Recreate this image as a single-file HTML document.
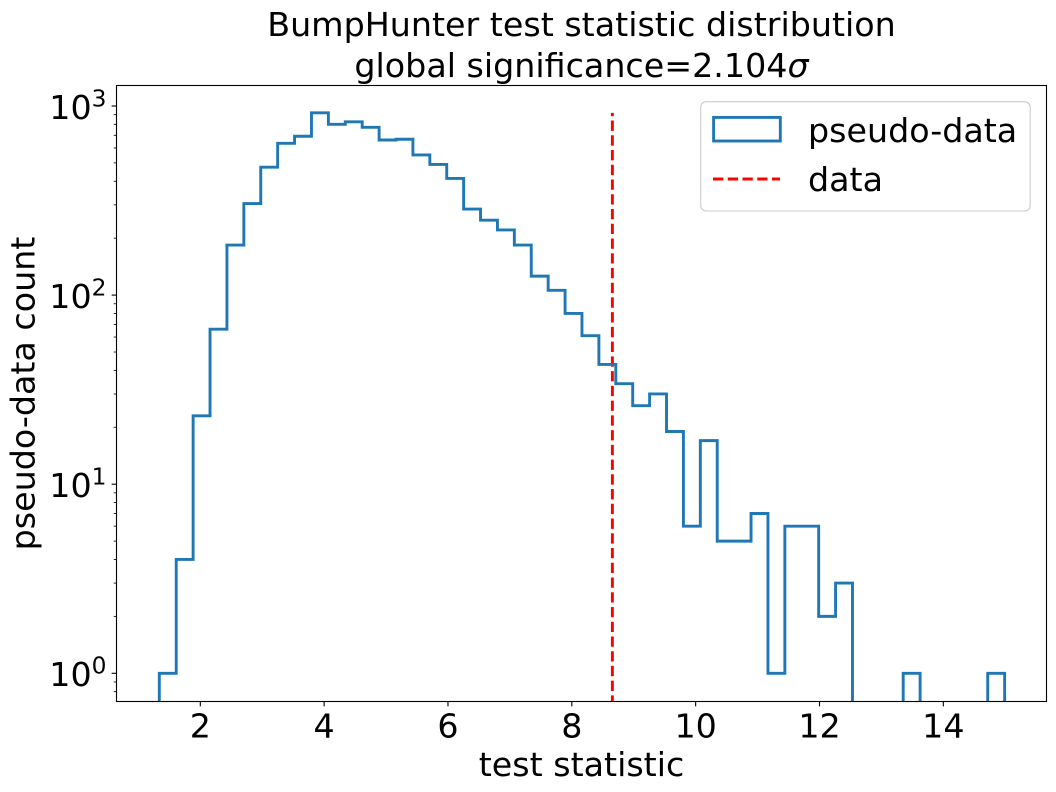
<!DOCTYPE html>
<html lang="en">
<head>
<meta charset="utf-8">
<title>BumpHunter test statistic distribution</title>
<style>
html,body{margin:0;padding:0;background:#fff;width:1056px;height:792px;overflow:hidden}
svg{display:block}
text{font-family:"DejaVu Sans","Liberation Sans",sans-serif;fill:#000}
</style>
</head>
<body>
<svg id="chart" xmlns="http://www.w3.org/2000/svg" width="1056" height="792" viewBox="0 0 1056 792">
  <defs><clipPath id="plot-clip"><rect x="116.5" y="85.5" width="930" height="616"/></clipPath></defs>
  <rect x="116.5" y="85.5" width="930" height="616" fill="#fff"/>
  <g id="marks" clip-path="url(#plot-clip)"></g>
  <g id="ticks"></g>
  <rect x="116.5" y="85.5" width="930" height="616" fill="none" stroke="#000" stroke-width="1.1"/>
  <text x="581.5" y="36" font-size="33.3" text-anchor="middle">BumpHunter test statistic distribution</text>
  <text x="581.5" y="77" font-size="33.3" text-anchor="middle">global significance=2.104<tspan font-style="italic">σ</tspan></text>
  <text x="581.5" y="776" font-size="33.3" text-anchor="middle">test statistic</text>
  <text transform="translate(34.5 393.5) rotate(-90)" font-size="33.3" text-anchor="middle">pseudo-data count</text>
  <g>
    <rect x="700.7" y="101.7" width="329.5" height="109.3" rx="5.5" ry="5.5" fill="#fff" fill-opacity="0.8" stroke="#ccc" stroke-width="1.1"/>
    <rect x="713.6" y="117.4" width="66.7" height="23.6" fill="none" stroke="#1f77b4" stroke-width="2.9"/>
    <text x="808" y="142" font-size="33.3">pseudo-data</text>
    <line x1="713" y1="179" x2="780" y2="179" stroke="#f00" stroke-width="2.9" stroke-dasharray="10.3 4.44"/>
    <text x="808" y="191" font-size="33.3">data</text>
  </g>
</svg>
<script>
const counts = [1,4,23,66,184,305,475,635,692,920,800,825,771,661,667,551,491,414,285,249,221,184,126,106,80,61,43,34,26,30,19,6,17,5,5,7,1,6,6,2,3,0,0,0,1,0,0,0,0,1];
const histRange = [1.338, 14.99];
const dataValue = [8.655];
const dataLineTop = [920];
const xTickValues = [2,4,6,8,10,12,14];
const yTickExponents = [0,1,2,3];
const minorMultipliers = [2,3,4,5,6,7,8,9];

const NS = 'http://www.w3.org/2000/svg';
const plot = {left:116.5, right:1046.5, top:85.5, bottom:701.5};
function xScale(v){ return 200.3 + (v - 2) * 61.92; }
function yScale(v){ return 673.3 - Math.log10(v) * 189.1; }
function make(tag, attrs, parent){
  const el = document.createElementNS(NS, tag);
  for (const k in attrs) el.setAttribute(k, attrs[k]);
  parent.appendChild(el);
  return el;
}
const marks = document.getElementById('marks');
const ticks = document.getElementById('ticks');

dataValue.forEach(function(v, i){
  const line = make('line', {x1:xScale(v), x2:xScale(v), y1:yScale(dataLineTop[i]), y2:plot.bottom, stroke:'#f00', 'stroke-width':2.9, 'stroke-dasharray':'10.3 4.44', 'stroke-dashoffset':7.04}, marks);
  
  
});

const binWidth = (histRange[1] - histRange[0]) / counts.length;
const baseY = plot.bottom + 20;
let d = 'M' + xScale(histRange[0]).toFixed(2) + ' ' + baseY;
counts.forEach(function(c, i){
  const y = c > 0 ? yScale(c) : baseY;
  const x0 = xScale(histRange[0] + i * binWidth);
  const x1 = xScale(histRange[0] + (i + 1) * binWidth);
  d += ' L' + x0.toFixed(2) + ' ' + y.toFixed(2) + ' L' + x1.toFixed(2) + ' ' + y.toFixed(2);
});
d += ' L' + xScale(histRange[1]).toFixed(2) + ' ' + baseY;
const hist = make('path', {d:d, fill:'none', stroke:'#1f77b4', 'stroke-width':2.9, 'stroke-linejoin':'miter'}, marks);



xTickValues.forEach(function(v){
  const x = xScale(v);
  const t = make('line', {x1:x, x2:x, y1:plot.bottom, y2:plot.bottom + 4.86, stroke:'#000', 'stroke-width':1.1}, ticks);
  
  
  const l = make('text', {x:x, y:737.5, 'font-size':33.3, 'text-anchor':'middle'}, ticks);
  l.textContent = String(v);
  
  
});

yTickExponents.forEach(function(e){
  const y = yScale(Math.pow(10, e));
  const t = make('line', {x1:plot.left - 4.86, x2:plot.left, y1:y, y2:y, stroke:'#000', 'stroke-width':1.1}, ticks);
  
  
  const l = make('text', {x:106.5, y:y + 12.8, 'font-size':33.3, 'text-anchor':'end'}, ticks);
  
  
  l.appendChild(document.createTextNode('10'));
  const s = make('tspan', {dy:-12.5, 'font-size':23.3}, l);
  s.textContent = String(e);
});

[-1,0,1,2,3].forEach(function(e){
  minorMultipliers.forEach(function(m){
    const v = m * Math.pow(10, e);
    const y = yScale(v);
    if (y < plot.top || y > plot.bottom) return;
    const t = make('line', {x1:plot.left - 2.78, x2:plot.left, y1:y, y2:y, stroke:'#000', 'stroke-width':0.83}, ticks);
    
    
  });
});
</script>
</body>
</html>
